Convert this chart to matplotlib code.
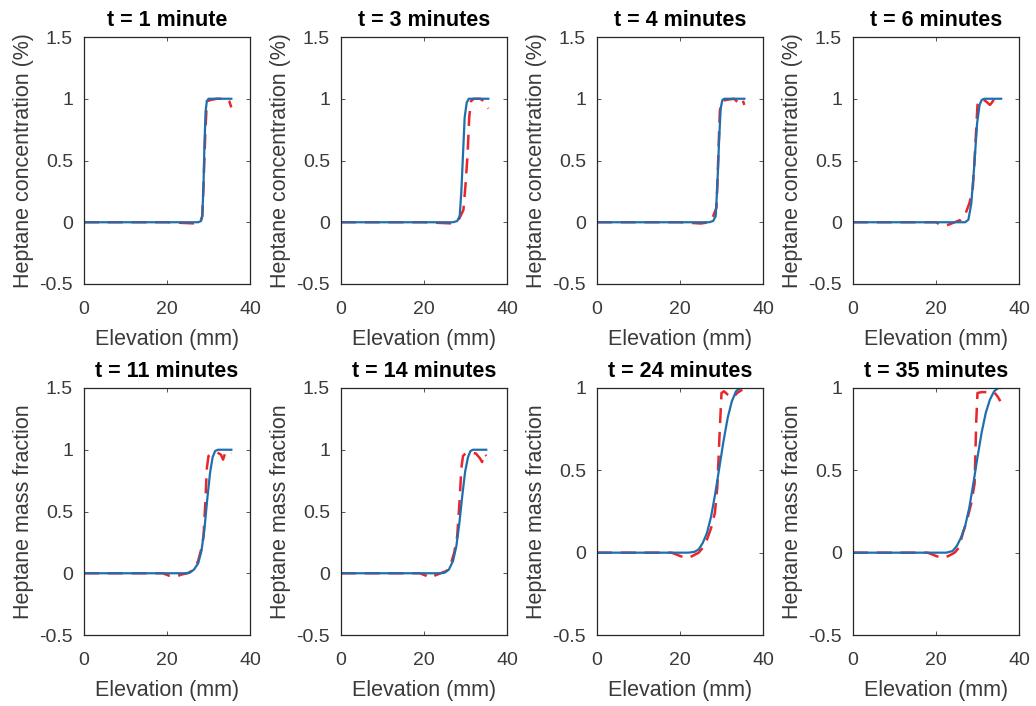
import matplotlib
matplotlib.use("Agg")
import matplotlib.pyplot as plt

plt.rcParams['font.family'] = ['Liberation Sans', 'DejaVu Sans']

titles = ["t = 1 minute", "t = 3 minutes", "t = 4 minutes", "t = 6 minutes",
          "t = 11 minutes", "t = 14 minutes", "t = 24 minutes", "t = 35 minutes"]
ylabels = ["Heptane concentration (%)"] * 4 + ["Heptane mass fraction"] * 4
ylims = [(-0.5, 1.5)] * 6 + [(-0.5, 1.0)] * 2
yticks_top = [-0.5, 0, 0.5, 1, 1.5]
yticks_short = [-0.5, 0, 0.5, 1]
xticks = [0, 20, 40]

# Model (blue solid) series
blue_x = [
    [0, 27.5, 28.2, 28.5, 28.8, 29.0, 29.3, 29.6, 30.0, 31, 33, 35.5],
    [0, 27, 28, 28.6, 29.0, 29.4, 29.8, 30.3, 30.8, 31.5, 35.5],
    [0, 27, 28, 28.6, 29.0, 29.4, 29.8, 30.2, 30.7, 35.5],
    [0, 26, 27, 27.8, 28.5, 29.2, 29.9, 30.5, 31.0, 31.6, 35.7],
    [0, 24.5, 25.5, 26.5, 27.5, 28.3, 29.0, 29.7, 30.4, 31.0, 31.6, 32.3, 33, 35.5],
    [0, 24, 25, 26, 27, 27.8, 28.5, 29.2, 29.9, 30.6, 31.2, 31.8, 33, 35],
    [0, 22, 23.5, 24.5, 25.5, 26.5, 27.5, 28.5, 29.5, 30.5, 31.5, 32.5, 33.5, 34.5, 36],
    [0, 22.5, 24, 25, 26, 27, 28, 29, 30, 31, 32, 33, 34, 35, 35.5],
]
blue_y = [
    [0, 0, 0.01, 0.05, 0.3, 0.6, 0.9, 0.98, 1.0, 1.0, 1.0, 1.0],
    [0, 0, 0.01, 0.05, 0.25, 0.55, 0.85, 0.97, 1.0, 1.0, 1.0],
    [0, 0, 0.01, 0.05, 0.3, 0.65, 0.92, 0.99, 1.0, 1.0],
    [0, 0, 0.0, 0.02, 0.15, 0.45, 0.8, 0.95, 0.99, 1.0, 1.0],
    [0, 0, 0.005, 0.03, 0.08, 0.18, 0.35, 0.6, 0.82, 0.94, 0.99, 1, 1, 1],
    [0, 0, 0.005, 0.03, 0.1, 0.22, 0.4, 0.62, 0.82, 0.94, 0.99, 1, 1, 1],
    [0, 0, 0.005, 0.02, 0.06, 0.12, 0.22, 0.36, 0.52, 0.68, 0.82, 0.92, 0.98, 1.0, 1.01],
    [0, 0, 0.01, 0.04, 0.09, 0.16, 0.27, 0.42, 0.58, 0.73, 0.85, 0.93, 0.98, 1.0, 1.0],
]

# Experiment (red dashed) series
red_x = [
    [0, 10, 20, 27, 28.0, 28.5, 28.8, 29.2, 29.6, 30.5, 32, 34.5, 35.0, 35.5],
    [0, 20, 27, 28.5, 29.5, 30.0, 30.5, 30.9, 31.3, 32, 33.5, 34.5, 35.0, 35.5],
    [0, 20, 25, 27, 28, 28.8, 29.2, 29.6, 30.0, 31, 33, 34, 35, 35.5],
    [0, 20, 21, 22, 23, 24.5, 26, 27, 28, 28.8, 29.2, 29.6, 30.0, 30.5, 31, 32, 33, 33.5, 34, 35],
    [0, 19, 20.5, 22, 23.5, 25, 26.5, 27.5, 28.3, 28.8, 29.2, 29.6, 30.0, 31, 32, 33, 33.5, 34, 34.5, 35.5],
    [0, 19, 20.5, 21.5, 22.5, 24, 25.5, 26.5, 27.3, 28.0, 28.6, 29.0, 29.4, 30.0, 31, 32.5, 33.5, 34.0, 34.5, 35],
    [0, 18, 20, 21.7, 23, 24.5, 25.5, 26.5, 27.5, 28.4, 29.0, 29.5, 30.0, 30.6, 31.5, 32.7, 33.8, 35.0],
    [0, 18, 20, 21.7, 23, 24.5, 25.5, 26.5, 27.5, 28.5, 29.3, 29.7, 30.0, 31, 32, 33, 34, 34.8, 35.5],
]
red_y = [
    [0, 0, 0, -0.01, 0.0, 0.05, 0.3, 0.7, 0.98, 0.99, 1.0, 1.0, 0.98, 0.93],
    [0, 0, -0.01, 0.03, 0.1, 0.3, 0.55, 0.85, 0.98, 1.0, 1.0, 0.98, 0.95, 0.92],
    [0, 0, -0.01, 0.0, 0.05, 0.12, 0.5, 0.9, 0.98, 0.99, 1.0, 0.97, 1.0, 0.95],
    [0, 0, -0.02, -0.03, -0.02, 0, 0.02, 0.06, 0.15, 0.25, 0.45, 0.7, 0.95, 0.98, 1.0, 0.98, 0.95, 0.97, 1.0, 1.0],
    [0, 0, -0.02, -0.03, -0.01, 0.0, 0.03, 0.1, 0.2, 0.3, 0.55, 0.85, 0.95, 0.97, 0.98, 0.96, 0.92, 0.97, 0.95, 0.97],
    [0, 0, -0.02, -0.04, -0.02, 0.0, 0.02, 0.08, 0.17, 0.3, 0.6, 0.85, 0.95, 0.97, 0.98, 0.97, 0.93, 0.9, 0.97, 0.95],
    [0, 0, -0.02, -0.035, -0.02, 0.0, 0.03, 0.08, 0.15, 0.24, 0.4, 0.7, 0.97, 0.98, 0.96, 0.94, 0.97, 0.99],
    [0, 0, -0.02, -0.035, -0.02, 0.0, 0.03, 0.12, 0.2, 0.3, 0.42, 0.8, 0.97, 0.975, 0.975, 0.975, 0.975, 0.95, 0.92],
]

fig = plt.figure(figsize=(10.36, 7.06), dpi=100)
lefts = [84, 341, 597, 853]
W, H = 1036, 706
axw = 166
rows = [(37, 284), (388, 635)]

txt = '#3a3a3a'
for i in range(8):
    r, c = divmod(i, 4)
    top, bot = rows[r]
    ax = fig.add_axes([lefts[c] / W, 1 - bot / H, axw / W, (bot - top) / H])
    ax.plot(red_x[i], red_y[i], color='#e8262b', lw=1.8, ls=(0, (6, 3.5)))
    ax.plot(blue_x[i], blue_y[i], color='#1f6fae', lw=1.6)
    ax.set_xlim(0, 40)
    ax.set_ylim(*ylims[i])
    ax.set_xticks(xticks)
    ax.set_xticklabels([str(v) for v in xticks])
    yt = yticks_top if ylims[i][1] > 1.2 else yticks_short
    ax.set_yticks(yt)
    ax.set_yticklabels(['%g' % v for v in yt])
    ax.tick_params(direction='in', length=3, width=0.6, top=True, right=True,
                   labelsize=14, colors=txt)
    ax.tick_params(axis='x', pad=12)
    ax.tick_params(axis='y', pad=8)
    for s in ax.spines.values():
        s.set_color('#262626')
        s.set_linewidth(0.9)
    ax.set_title(titles[i], fontsize=15.5, fontweight='bold', color='black', pad=8)
    ax.set_xlabel("Elevation (mm)", fontsize=15.5, color=txt, labelpad=8)
    ax.set_ylabel(ylabels[i], fontsize=15.5, color=txt, labelpad=4)

fig.savefig("out.png", dpi=100)
